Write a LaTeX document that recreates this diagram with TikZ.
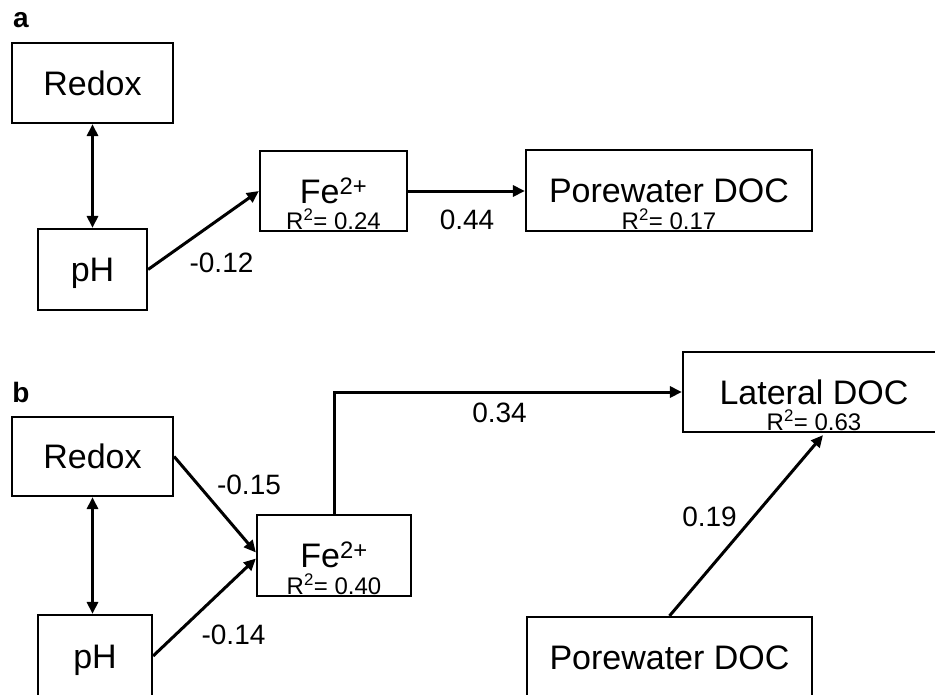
\documentclass[tikz,border=0pt]{standalone}
\usepackage{fontspec}
\setmainfont{Liberation Sans}
\usetikzlibrary{arrows.meta}

\begin{document}
\begin{tikzpicture}[x=1pt,y=-1pt,
  box/.style={draw,line width=2.2pt,inner sep=0pt,font=\fontsize{34}{40}\selectfont,text height=24.4pt,text depth=0pt},
  rsq/.style={anchor=base,inner sep=0pt,font=\fontsize{24}{28}\selectfont},
  coef/.style={inner sep=0pt,font=\fontsize{28}{32}\selectfont},
  panel/.style={inner sep=0pt,font=\fontsize{28}{32}\selectfont\bfseries},
  link/.style={line width=3pt,-{Triangle[length=12pt,width=11pt]}},
  twolink/.style={line width=3pt,{Triangle[length=12pt,width=11pt]}-{Triangle[length=12pt,width=11pt]}}]
  \useasboundingbox (0,0) rectangle (935,694);
  % panel a
  \node[panel] (tagA) at (21,20) {a};
  \node[box,minimum width=161pt,minimum height=80pt] (redoxA) at (92.5,83) {Redox};
  \node[box,minimum width=109pt,minimum height=81pt] (phA) at (92.5,269.5) {pH};
  \node[box,minimum width=147pt,minimum height=80pt] (feA) at (333.5,191) {Fe\textsuperscript{2+}};
  \node[box,minimum width=286pt,minimum height=81pt] (poreA) at (669,190.5) {Porewater DOC};
  \node[rsq] (feAr) at ([yshift=2.5pt]feA.south) {R\textsuperscript{2}= 0.24};
  \node[rsq] (poreAr) at ([yshift=2.5pt]poreA.south) {R\textsuperscript{2}= 0.17};
  \draw[twolink] (redoxA.south) -- (phA.north);
  \draw[link] (phA.east) -- (feA.west);
  \draw[link] (feA.east) -- (feA.east -| poreA.west);
  \node[coef] (cPhFeA) at (221.5,262.5) {-0.12};
  \node[coef] (cFePoreA) at (467,220) {0.44};
  % panel b
  \node[panel] (tagB) at (21,392) {b};
  \node[box,minimum width=161pt,minimum height=79pt] (redoxB) at (92.5,456.5) {Redox};
  \node[box,minimum width=114pt,minimum height=82pt] (phB) at (95,656) {pH};
  \node[box,minimum width=154pt,minimum height=81pt] (feB) at (334,555.5) {Fe\textsuperscript{2+}};
  \node[box,minimum width=262pt,minimum height=80pt] (latB) at (814,392) {Lateral DOC};
  \node[box,minimum width=285pt,minimum height=80pt] (poreB) at (669.5,657) {Porewater DOC};
  \node[rsq] (feBr) at ([yshift=3pt]feB.south) {R\textsuperscript{2}= 0.40};
  \node[rsq] (latBr) at ([yshift=2.5pt]latB.south) {R\textsuperscript{2}= 0.63};
  \draw[twolink] (redoxB.south) -- (phB.north -| redoxB.south);
  \draw[link] (redoxB.east) -- ([yshift=3pt]feB.west);
  \draw[link] (phB.east) -- ([yshift=-3pt]feB.west);
  \draw[link] (feB.north) |- (latB.west);
  \draw[link] (poreB.north) -- ([xshift=9pt,yshift=-2pt]latB.south);
  \node[coef] (cRedoxFeB) at (249,484.5) {-0.15};
  \node[coef] (cPhFeB) at (233.5,635) {-0.14};
  \node[coef] (cFeLatB) at (499.5,412.5) {0.34};
  \node[coef] (cPoreLatB) at (709.5,517) {0.19};
\end{tikzpicture}
\end{document}
